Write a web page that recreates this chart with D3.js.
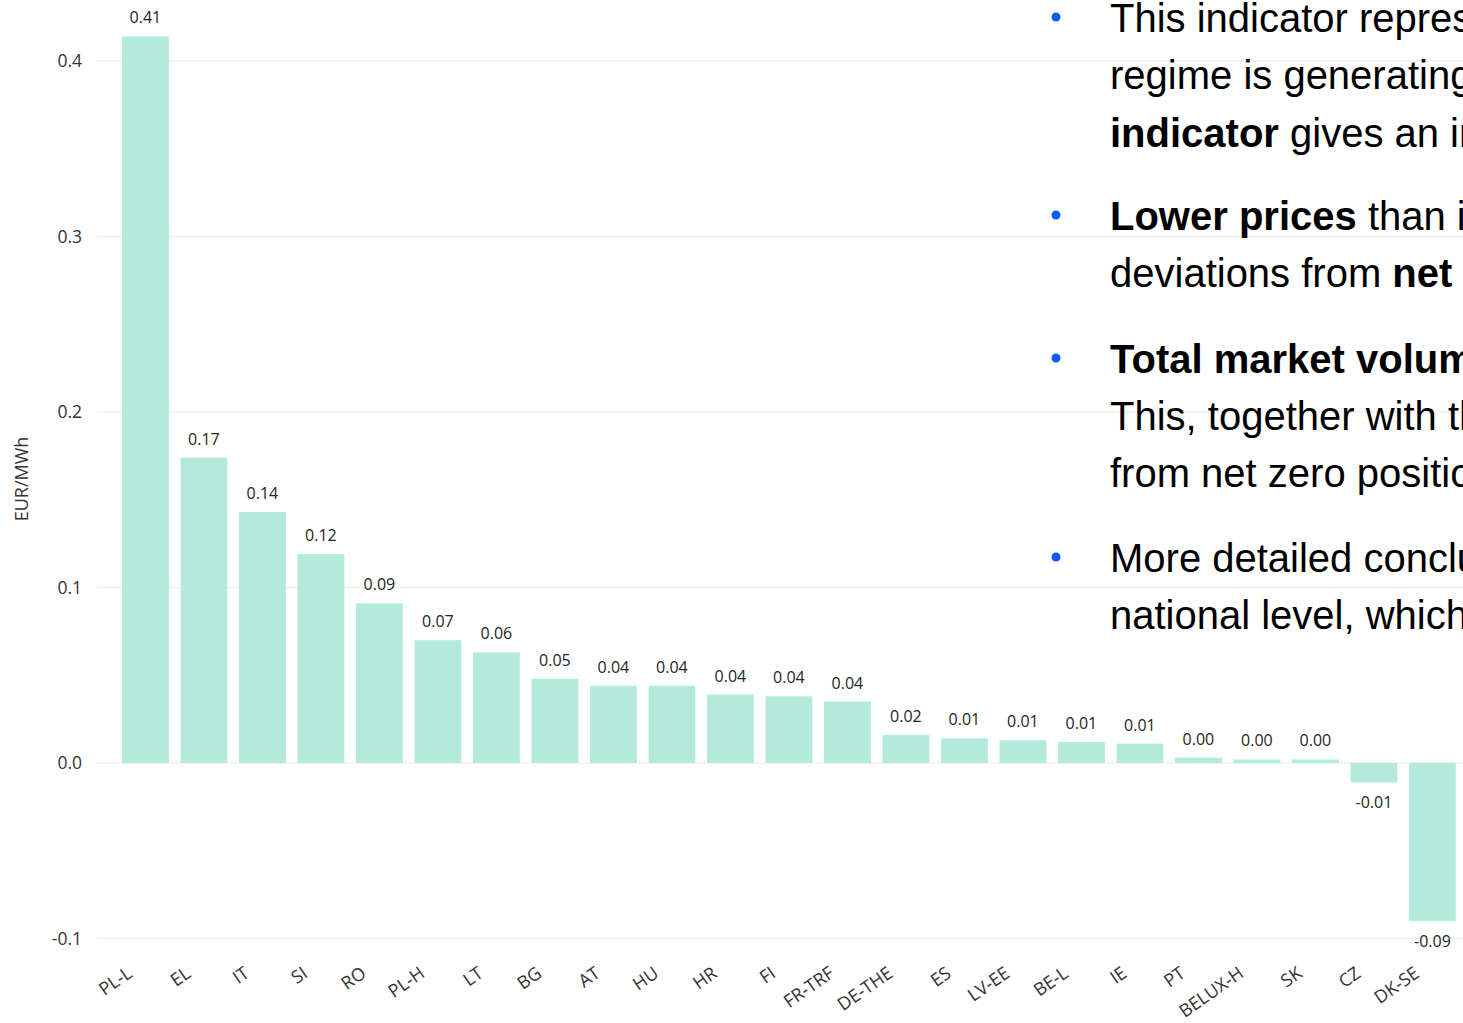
<!DOCTYPE html>
<html>
<head>
<meta charset="utf-8">
<script src="https://cdn.jsdelivr.net/npm/d3@7"></script>
<style>
  html, body { margin: 0; padding: 0; background: #fff; overflow: hidden; }
  svg { display: block; }
</style>
</head>
<body>
<svg id="chart" width="1463" height="1023"></svg>
<script>
// ---- data ----
const categories = ["PL-L","EL","IT","SI","RO","PL-H","LT","BG","AT","HU","HR","FI","FR-TRF","DE-THE","ES","LV-EE","BE-L","IE","PT","BELUX-H","SK","CZ","DK-SE"];
const values = [0.414,0.174,0.143,0.119,0.091,0.070,0.063,0.048,0.044,0.044,0.039,0.038,0.035,0.016,0.014,0.013,0.012,0.011,0.003,0.002,0.002,-0.011,-0.090];
const yTicks = [-0.1, 0.0, 0.1, 0.2, 0.3, 0.4];
const yTitle = "EUR/MWh";
const bulletLines = [
  [["This indicator repres", false]],
  [["regime is generating", false]],
  [["indicator", true], [" gives an in", false]],
  [["Lower prices", true], [" than i", false]],
  [["deviations from ", false], ["net", true]],
  [["Total market volum", true]],
  [["This, together with th", false]],
  [["from net zero positio", false]],
  [["More detailed conclu", false]],
  [["national level, which", false]]
];
const bulletStarts = [0, 3, 5, 8];

// ---- layout ----
const svg = d3.select("#chart");
const W = 1463, H = 1023;
const barColor = "#b3eadc";

const x = d3.scaleBand().domain(categories).range([116.2, 1461.7]).paddingInner(0.2).paddingOuter(0.1);
const y = d3.scaleLinear().domain([-0.1, 0.4]).range([938.5, 61]);

// gridlines
svg.append("g").selectAll("line").data(yTicks).join("line")
  .attr("x1", 97).attr("x2", W)
  .attr("y1", d => y(d)).attr("y2", d => y(d))
  .attr("stroke", "#efefef").attr("stroke-width", 1.5);

// y axis labels
const yAxis = d3.axisLeft(y).tickValues(yTicks).tickFormat(d => d3.format(".1f")(d).replace("\u2212", "-")).tickSize(0).tickPadding(0);
const gy = svg.append("g").attr("transform", "translate(82,0)").call(yAxis);
gy.select(".domain").remove();
gy.selectAll("text").attr("font-family", "'Open Sans', sans-serif").attr("font-size", 17.5).attr("fill", "#333");

// axis title
svg.append("text")
  .attr("transform", "translate(28,479) rotate(-90)")
  .attr("text-anchor", "middle")
  .attr("font-family", "'Open Sans', sans-serif").attr("font-size", 18).attr("fill", "#333")
  .text(yTitle);

// bars
svg.append("g").selectAll("rect").data(categories).join("rect")
  .attr("x", d => x(d))
  .attr("width", x.bandwidth())
  .attr("y", (d, i) => Math.min(y(values[i]), y(0)))
  .attr("height", (d, i) => Math.abs(y(values[i]) - y(0)))
  .attr("fill", barColor);

// data labels
const fmt = d => d3.format(".2f")(d).replace("\u2212", "-");
svg.append("g").selectAll("text").data(categories).join("text")
  .attr("x", d => x(d) + x.bandwidth() / 2)
  .attr("y", (d, i) => values[i] >= 0 ? y(values[i]) - 13 : y(values[i]) + 26)
  .attr("text-anchor", "middle")
  .attr("font-family", "'Open Sans', sans-serif").attr("font-size", 16).attr("fill", "#252423")
  .text((d, i) => fmt(values[i]));

// x axis labels
const xAxis = d3.axisBottom(x).tickSize(0).tickPadding(0);
const gx = svg.append("g").attr("transform", "translate(0,976)").call(xAxis);
gx.select(".domain").remove();
gx.selectAll("text")
  .attr("font-family", "'Open Sans', sans-serif").attr("font-size", 18).attr("fill", "#333")
  .attr("text-anchor", "end")
  .attr("dy", 0)
  .attr("transform", "translate(-12,0) rotate(-35)");

// text overlay
const tg = svg.append("g").attr("font-family", "'Liberation Sans', Arial, sans-serif").attr("font-size", 40).attr("fill", "#000");
const baselines = [32, 89, 147, 230, 287, 373, 430, 487, 572, 629];
bulletLines.forEach((segs, i) => {
  const t = tg.append("text").attr("x", 1110).attr("y", baselines[i]);
  segs.forEach(s => t.append("tspan").attr("font-weight", s[1] ? "bold" : "normal").text(s[0]));
});
tg.selectAll("circle").data(bulletStarts).join("circle")
  .attr("cx", 1056).attr("cy", d => baselines[d] - 15).attr("r", 4.5).attr("fill", "#0b5cf5");
</script>
</body>
</html>
